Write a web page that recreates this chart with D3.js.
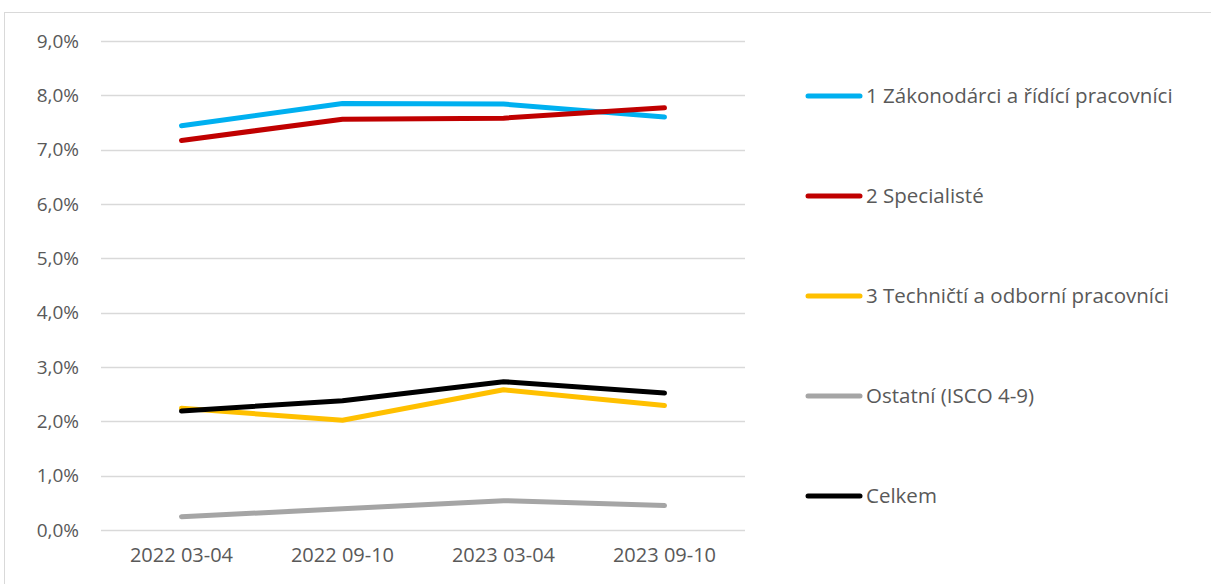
<!DOCTYPE html>
<html><head><meta charset="utf-8">
<script src="https://cdn.jsdelivr.net/npm/d3@7"></script>
<style>
html,body{margin:0;padding:0;background:#fff;}
svg{display:block;font-family:"Open Sans",sans-serif;}
</style></head>
<body><svg id="c" width="1211" height="584"></svg>
<script>
const categories = ["2022 03-04","2022 09-10","2023 03-04","2023 09-10"];
const seriesNames = ["1 Zákonodárci a řídící pracovníci","2 Specialisté","3 Techničtí a odborní pracovníci","Ostatní (ISCO 4-9)","Celkem"];
const seriesColors = ["#00b0f0","#c00000","#ffc000","#a5a5a5","#000000"];
const s1 = [7.44, 7.85, 7.84, 7.60];
const s2 = [7.17, 7.56, 7.58, 7.77];
const s3 = [2.24, 2.02, 2.58, 2.29];
const s4 = [0.245, 0.39, 0.54, 0.45];
const s5 = [2.19, 2.38, 2.73, 2.52];
const yTicks = [0,1,2,3,4,5,6,7,8,9];
const seriesValues = [s1,s2,s3,s4,s5];

const FONT = "'Open Sans',sans-serif";
const svg = d3.select("#c");
svg.append("rect").attr("x",4.5).attr("y",12.5).attr("width",1220).attr("height",600)
  .attr("fill","none").attr("stroke","#d9d9d9").attr("stroke-width",1);

const x = d3.scaleBand().domain(categories).range([101,745]);
const y = d3.scaleLinear().domain([0,9]).range([530,41]);

const grid = svg.append("g");
grid.selectAll("line").data(yTicks).join("line")
  .attr("x1",101).attr("x2",745)
  .attr("y1",d=>Math.round(y(d))+0.5).attr("y2",d=>Math.round(y(d))+0.5)
  .attr("stroke","#d9d9d9").attr("stroke-width",1.5);

const fmt = d => d.toFixed(1).replace(".",",")+"%";
const yAxis = d3.axisLeft(y).tickValues(yTicks).tickFormat(fmt).tickSize(0).tickPadding(0);
const ya = svg.append("g").attr("transform","translate(79,0)").call(yAxis);
ya.select(".domain").remove();
ya.selectAll("text").attr("fill","#595959").style("font-size","19px").style("font-family",FONT);

const xAxis = d3.axisBottom(x).tickSize(0).tickPadding(0);
const xa = svg.append("g").attr("transform","translate(0,548)").call(xAxis);
xa.select(".domain").remove();
xa.selectAll("text").attr("fill","#595959").style("font-size","20px").style("font-family",FONT);

const line = d3.line().x((d,i)=>x(categories[i])+x.bandwidth()/2).y(d=>y(d));
svg.append("g").selectAll("path").data(seriesValues).join("path")
  .attr("d",d=>line(d)).attr("fill","none")
  .attr("stroke",(d,i)=>seriesColors[i]).attr("stroke-width",5)
  .attr("stroke-linecap","round").attr("stroke-linejoin","round");

const legY = [96,196,296,396,496];
const leg = svg.append("g").selectAll("g").data(seriesNames).join("g")
  .attr("transform",(d,i)=>`translate(0,${legY[i]})`);
leg.append("line").attr("x1",808).attr("x2",860).attr("y1",0).attr("y2",0)
  .attr("stroke",(d,i)=>seriesColors[i]).attr("stroke-width",5).attr("stroke-linecap","round");
leg.append("text").attr("x",866).attr("y",0).attr("dy","0.35em")
  .attr("fill","#595959").style("font-size","20.5px").style("font-family",FONT).text(d=>d);
</script></body></html>
